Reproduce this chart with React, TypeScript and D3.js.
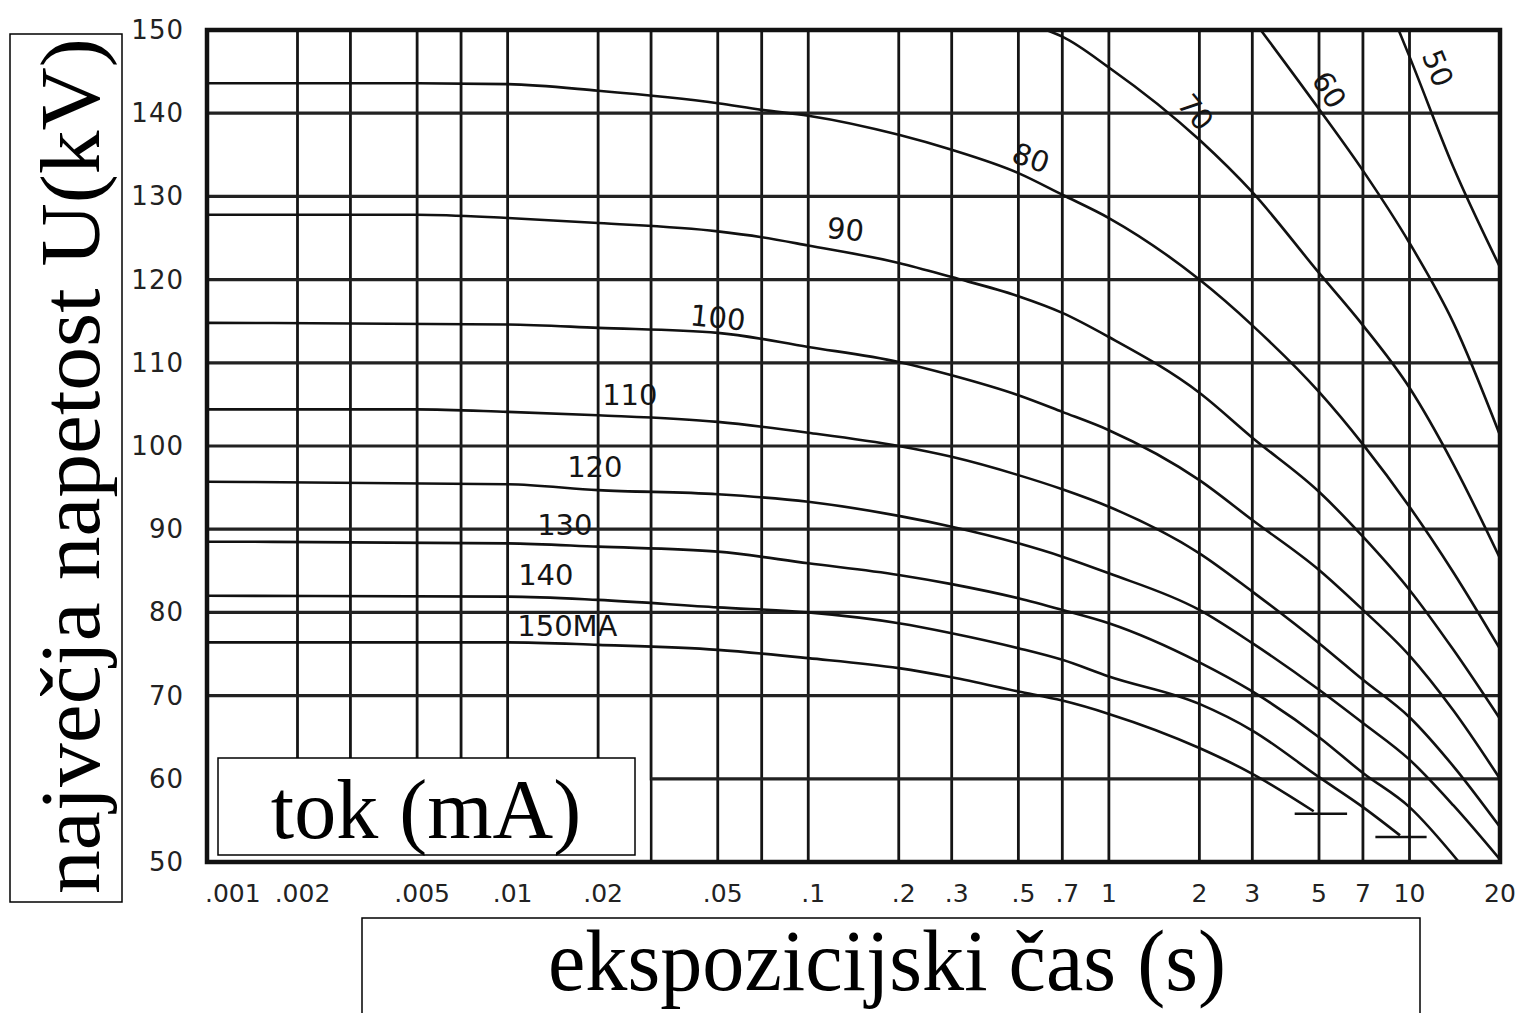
import React from "react";
import * as d3 from "d3";

const W = 1528;
const H = 1013;
const plot = { left: 207, right: 1500, top: 30, bottom: 862 };

// grid and tick values
const gridTimes = [0.001, 0.002, 0.003, 0.005, 0.007, 0.01, 0.02, 0.03, 0.05, 0.07, 0.1, 0.2, 0.3, 0.5, 0.7, 1, 2, 3, 5, 7, 10, 20];
const timeTicks = [0.001, 0.002, 0.005, 0.01, 0.02, 0.05, 0.1, 0.2, 0.3, 0.5, 0.7, 1, 2, 3, 5, 7, 10, 20];
const timeLabels = [".001", ".002", ".005", ".01", ".02", ".05", ".1", ".2", ".3", ".5", ".7", "1", "2", "3", "5", "7", "10", "20"];
const kvTicks = [50, 60, 70, 80, 90, 100, 110, 120, 130, 140, 150];

// [time s, kV], one array per tube current
const ma50 = [[9.2, 150], [10, 146.8], [14, 133.5], [20, 121.5]];
const ma60 = [[3.2, 150], [5, 140.5], [7, 133.1], [10, 124.4], [14, 114.8], [20, 101.3]];
const ma70 = [[0.62, 150], [0.7, 149.2], [1, 145.5], [2, 136.8], [3, 130.5], [5, 120.8], [7, 114.5], [10, 107.0], [14, 97.8], [20, 86.5]];
const ma80 = [[0.001, 143.6], [0.005, 143.6], [0.01, 143.5], [0.02, 142.7], [0.05, 141.2], [0.07, 140.4], [0.1, 139.7], [0.2, 137.4], [0.3, 135.6], [0.5, 132.8], [0.7, 130.2], [1, 127.4], [2, 120.0], [3, 114.5], [5, 106.5], [7, 100.2], [10, 92.7], [14, 84.8], [20, 75.6]];
const ma90 = [[0.001, 127.8], [0.005, 127.8], [0.01, 127.4], [0.02, 126.8], [0.05, 125.8], [0.07, 125.1], [0.1, 124.1], [0.2, 122.0], [0.3, 120.3], [0.5, 118.0], [0.7, 116.0], [1, 113.1], [2, 106.4], [3, 101.0], [5, 94.5], [7, 89.1], [10, 82.7], [14, 75.5], [20, 67.2]];
const ma100 = [[0.001, 114.8], [0.01, 114.6], [0.02, 114.2], [0.05, 113.6], [0.1, 111.9], [0.2, 110.1], [0.3, 108.5], [0.5, 106.1], [0.7, 104.1], [1, 101.9], [2, 95.9], [3, 91.1], [5, 85.1], [7, 80.3], [10, 74.8], [14, 68.2], [20, 60.0]];
const ma110 = [[0.001, 104.4], [0.005, 104.4], [0.01, 104.1], [0.02, 103.7], [0.05, 102.9], [0.1, 101.6], [0.2, 100.0], [0.3, 98.7], [0.5, 96.5], [0.7, 94.8], [1, 92.7], [2, 87.1], [3, 82.5], [5, 76.3], [7, 71.9], [10, 67.4], [14, 61.5], [20, 54.2]];
const ma120 = [[0.001, 95.7], [0.01, 95.4], [0.02, 94.7], [0.05, 94.2], [0.1, 93.3], [0.2, 91.6], [0.3, 90.3], [0.5, 88.3], [0.7, 86.7], [1, 84.7], [2, 80.3], [3, 76.3], [5, 70.7], [7, 66.7], [10, 62.3], [14, 56.8], [20, 50.3]];
const ma130 = [[0.001, 88.5], [0.01, 88.3], [0.02, 87.9], [0.05, 87.3], [0.1, 85.9], [0.2, 84.5], [0.3, 83.4], [0.5, 81.7], [0.7, 80.3], [1, 78.7], [2, 74.0], [3, 70.5], [5, 65.0], [7, 60.7], [10, 56.6], [14.6, 50]];
const ma140 = [[0.001, 82.0], [0.01, 81.9], [0.02, 81.5], [0.05, 80.6], [0.1, 80.0], [0.2, 78.7], [0.3, 77.5], [0.5, 75.7], [0.7, 74.3], [1, 72.3], [2, 69.0], [3, 65.8], [5, 60.2], [7, 56.6], [9.3, 53.2]];
const ma150 = [[0.001, 76.4], [0.01, 76.4], [0.02, 76.1], [0.05, 75.5], [0.1, 74.5], [0.2, 73.3], [0.3, 72.2], [0.5, 70.5], [0.7, 69.4], [1, 67.8], [2, 63.7], [3, 60.6], [4.8, 56.1]];
const curves = [ma50, ma60, ma70, ma80, ma90, ma100, ma110, ma120, ma130, ma140, ma150];

// little end bars on the 140 and 150 mA curves: [t0, t1, kV]
const endBars = [[4.15, 6.2, 55.8], [7.7, 11.4, 53.0]];

// curve labels: text, t, kV, rotation
const curveLabels: [string, number, number, number][] = [
  ["50", 12.4, 145.4, 68],
  ["60", 5.4, 142.8, 58],
  ["70", 1.94, 140.1, 50],
  ["80", 0.55, 134.6, 20],
  ["90", 0.133, 126.0, 6],
  ["100", 0.05, 115.4, 6],
  ["110", 0.0255, 106.1, 0],
  ["120", 0.0195, 97.5, 0],
  ["130", 0.0155, 90.5, 0],
  ["140", 0.0134, 84.5, 0],
  ["150MA", 0.0158, 78.4, 0],
];

const x = d3.scaleLog().domain([0.001, 20]).range([plot.left, plot.right]);
const y = d3.scaleLinear().domain([50, 150]).range([plot.bottom, plot.top]);

const line = d3
  .line<number[]>()
  .x((d) => x(d[0]))
  .y((d) => y(d[1]))
  .curve(d3.curveMonotoneX);

const tickFont = "DejaVu Sans, sans-serif";
const titleFont = "Liberation Serif, serif";

export default function App() {
  const maskRight = x(0.03);
  return (
    <svg
      width={W}
      height={H}
      viewBox={`0 0 ${W} ${H}`}
      style={{ position: "absolute", left: 0, top: 0, background: "#fff" }}
    >
      <rect x={0} y={0} width={W} height={H} fill="#fff" />

      {/* grid */}
      <g stroke="#151515" strokeWidth={2.8}>
        {gridTimes.map((t) => (
          <line key={"v" + t} x1={x(t)} x2={x(t)} y1={plot.top} y2={plot.bottom} />
        ))}
        {kvTicks.map((v) => (
          <line
            key={"h" + v}
            x1={v === 60 ? maskRight : plot.left}
            x2={plot.right}
            y1={y(v)}
            y2={y(v)}
            strokeWidth={3.2}
            stroke="#222"
          />
        ))}
      </g>

      {/* blank corner below 60 kV on the left */}
      <rect x={plot.left + 2} y={y(60) + 1.6} width={maskRight - plot.left - 3.4} height={y(50) - y(60) - 3.6} fill="#fff" />

      {/* curves */}
      <g fill="none" stroke="#111" strokeWidth={2.6} strokeLinejoin="round">
        {curves.map((c, i) => (
          <path key={i} d={line(c) || ""} />
        ))}
        {endBars.map((b, i) => (
          <line key={"b" + i} x1={x(b[0])} x2={x(b[1])} y1={y(b[2])} y2={y(b[2])} strokeWidth={2.4} />
        ))}
      </g>

      {/* plot border */}
      <rect
        x={plot.left}
        y={plot.top}
        width={plot.right - plot.left}
        height={plot.bottom - plot.top}
        fill="none"
        stroke="#111"
        strokeWidth={4.5}
      />

      {/* curve labels */}
      <g fontFamily={tickFont} fontSize={29} fill="#151515">
        {curveLabels.map(([txt, t, kv, rot]) => (
          <text
            key={txt}
            textAnchor="middle"
            dominantBaseline="central"
            transform={`translate(${x(t)},${y(kv)}) rotate(${rot})`}
          >
            {txt}
          </text>
        ))}
      </g>

      {/* y tick labels */}
      <g fontFamily={tickFont} fontSize={26} fill="#222" letterSpacing={1}>
        {kvTicks.map((v) => (
          <text key={v} x={184} y={y(v)} textAnchor="end" dominantBaseline="central">
            {v}
          </text>
        ))}
      </g>

      {/* x tick labels */}
      <g fontFamily={tickFont} fontSize={25} fill="#222">
        {timeTicks.map((t, i) => (
          <text
            key={t}
            x={i === 0 ? x(t) - 2 : x(t) + (timeLabels[i].startsWith(".") ? 5 : 0)}
            y={893}
            textAnchor={i === 0 ? "start" : "middle"}
            dominantBaseline="central"
          >
            {timeLabels[i]}
          </text>
        ))}
      </g>

      {/* legend box */}
      <rect x={218} y={758} width={417} height={97} fill="#fff" stroke="#000" strokeWidth={1.5} />
      <text x={426} y={838} textAnchor="middle" fontFamily={titleFont} fontSize={84} fill="#000">
        tok (mA)
      </text>

      {/* y title */}
      <rect x={10} y={34} width={112} height={868} fill="none" stroke="#000" strokeWidth={1.5} />
      <text
        transform="translate(99,466) rotate(-90)"
        textAnchor="middle"
        fontFamily={titleFont}
        fontSize={84}
        fill="#000"
        textLength={856}
        lengthAdjust="spacingAndGlyphs"
      >
        največja napetost U(kV)
      </text>

      {/* x title */}
      <rect x={362} y={918} width={1058} height={120} fill="#fff" stroke="#000" strokeWidth={1.5} />
      <text
        x={887}
        y={990}
        textAnchor="middle"
        fontFamily={titleFont}
        fontSize={86}
        fill="#000"
        textLength={678}
        lengthAdjust="spacingAndGlyphs"
      >
        ekspozicijski čas (s)
      </text>
    </svg>
  );
}
